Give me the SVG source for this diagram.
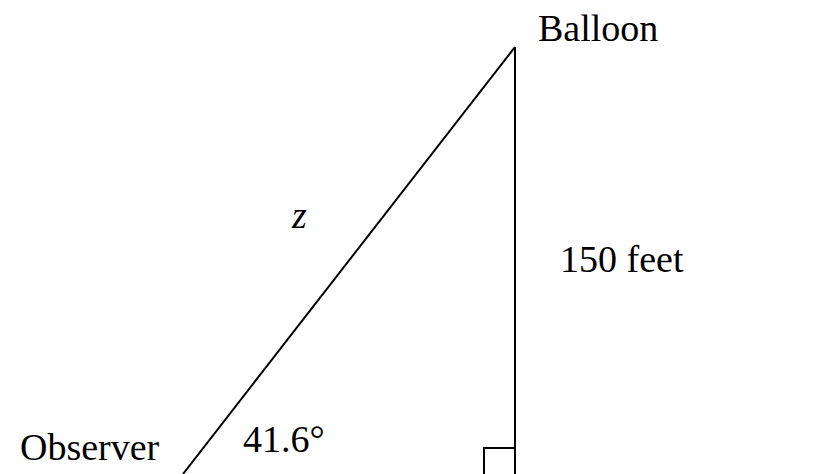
<svg xmlns="http://www.w3.org/2000/svg" width="838" height="474" viewBox="0 0 838 474">
<style>
.t{font-family:"Liberation Serif","Times New Roman",serif;font-size:38px;fill:#000}
.ln{stroke:#000;stroke-width:2;fill:none}
</style>
<rect width="838" height="474" fill="#fff"/>
<g id="connectors">
<line class="ln" x1="515" y1="47" x2="183" y2="474"/>
<line class="ln" x1="515" y1="47" x2="515" y2="474"/>
<polyline class="ln" points="484,474 484,448 515,448"/>
</g>
<g id="balloon"><text class="t" x="538" y="41">Balloon</text></g>
<g id="observer"><text class="t" x="20" y="460">Observer</text></g>
<g id="angle"><text class="t" x="243" y="452">41.6°</text></g>
<g id="height"><text class="t" x="560" y="272">150 feet</text></g>
<g id="hyp"><text class="t" x="292" y="228" font-style="italic">z</text></g>
</svg>
